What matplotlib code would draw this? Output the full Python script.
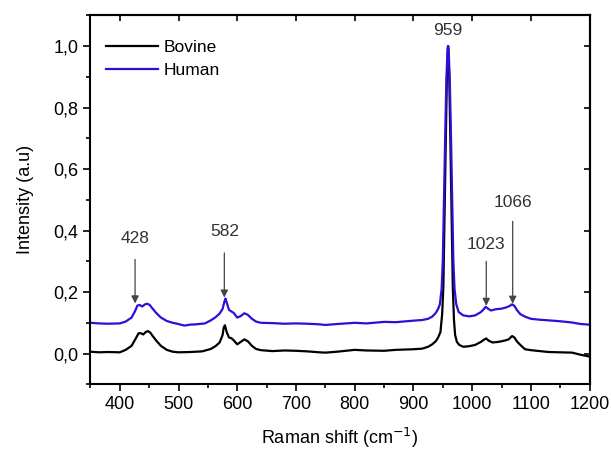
import matplotlib
matplotlib.use("Agg")
import matplotlib.pyplot as plt
from matplotlib.ticker import MultipleLocator

plt.rcParams['font.family'] = ['Liberation Sans', 'DejaVu Sans']

# --- podaci ocitani sa slike

# Human (plava)
human_x = [350, 365, 380, 400, 410, 420, 426, 430, 434, 438, 443, 447, 451, 455, 462, 470, 480,
           490, 500, 510, 520, 530, 545, 555, 563, 570, 575, 578, 580, 583, 586, 590, 594, 600,
           606, 612, 618, 625, 632, 640, 660, 680, 700, 720, 740, 750, 770, 800, 820, 850, 870,
           900, 915, 925, 932, 938, 942, 945, 948, 950, 952, 954, 956, 958, 959, 960, 962, 964,
           966, 968, 970, 973, 977, 985, 995, 1005, 1015, 1020, 1023, 1027, 1032, 1040, 1050,
           1058, 1064, 1068, 1072, 1076, 1082, 1090, 1100, 1115, 1130, 1150, 1170, 1185, 1200]
human_y = [0.100, 0.098, 0.097, 0.098, 0.104, 0.117, 0.138, 0.156, 0.158, 0.153, 0.160, 0.162,
           0.158, 0.148, 0.132, 0.117, 0.106, 0.100, 0.096, 0.091, 0.094, 0.095, 0.098, 0.108,
           0.118, 0.130, 0.145, 0.168, 0.179, 0.160, 0.142, 0.137, 0.132, 0.117, 0.122, 0.131,
           0.126, 0.113, 0.104, 0.100, 0.099, 0.097, 0.098, 0.097, 0.095, 0.093, 0.096, 0.100,
           0.098, 0.103, 0.102, 0.107, 0.109, 0.113, 0.120, 0.132, 0.145, 0.160, 0.210, 0.300,
           0.500, 0.700, 0.880, 0.990, 1.000, 0.990, 0.880, 0.700, 0.500, 0.300, 0.210, 0.160,
           0.135, 0.124, 0.121, 0.124, 0.135, 0.145, 0.152, 0.146, 0.140, 0.144, 0.146, 0.150,
           0.155, 0.160, 0.155, 0.142, 0.128, 0.120, 0.113, 0.110, 0.108, 0.105, 0.101, 0.096,
           0.094]

# Bovine (crna)
bovine_x = [350, 365, 380, 400, 410, 420, 426, 432, 436, 440, 444, 448, 452, 456, 463, 470, 480,
            490, 500, 520, 540, 555, 563, 570, 575, 577, 579, 582, 586, 590, 594, 600, 606, 612,
            618, 625, 632, 640, 660, 680, 700, 720, 740, 750, 770, 800, 820, 850, 870, 900, 915,
            925, 932, 938, 942, 946, 949, 951, 953, 955, 957, 959, 961, 963, 965, 967, 969, 971,
            974, 978, 985, 995, 1005, 1015, 1020, 1024, 1028, 1035, 1045, 1055, 1062, 1068,
            1072, 1076, 1082, 1090, 1100, 1115, 1130, 1150, 1170, 1185, 1200]
bovine_y = [0.006, 0.004, 0.005, 0.004, 0.012, 0.025, 0.045, 0.066, 0.066, 0.062, 0.070, 0.073,
            0.068, 0.057, 0.040, 0.025, 0.012, 0.006, 0.004, 0.005, 0.007, 0.015, 0.024, 0.036,
            0.060, 0.085, 0.092, 0.070, 0.052, 0.050, 0.043, 0.030, 0.038, 0.046, 0.040, 0.025,
            0.015, 0.011, 0.008, 0.010, 0.009, 0.007, 0.004, 0.003, 0.006, 0.012, 0.010, 0.009,
            0.012, 0.014, 0.016, 0.022, 0.030, 0.040, 0.052, 0.070, 0.130, 0.220, 0.450, 0.680,
            0.900, 1.000, 0.900, 0.680, 0.450, 0.220, 0.110, 0.060, 0.038, 0.028, 0.022, 0.024,
            0.028, 0.038, 0.045, 0.049, 0.042, 0.036, 0.038, 0.042, 0.046, 0.057, 0.052, 0.040,
            0.028, 0.014, 0.011, 0.008, 0.005, 0.004, 0.003, -0.004, -0.010]

# oznake pikova: polozaj, vrh strelice, pocetak strelice, polozaj teksta
peak_labels = ['428', '582', '1023', '1066']
peak_x = [426, 578, 1024, 1069]
arrow_tip = [0.163, 0.182, 0.155, 0.162]
arrow_start = [0.306, 0.327, 0.300, 0.430]
text_y = [0.373, 0.397, 0.354, 0.492]

y_ticks = [0.0, 0.2, 0.4, 0.6, 0.8, 1.0]
y_tick_labels = ['0,0', '0,2', '0,4', '0,6', '0,8', '1,0']
x_ticks = [400, 500, 600, 700, 800, 900, 1000, 1100, 1200]

# --- graficki prikaz
slika = plt.figure(figsize=(6.11, 4.5), dpi=100)
ax = slika.add_axes([0.148, 0.146, 0.817, 0.82])

ax.plot(bovine_x, bovine_y, c='black', lw=1.6, label='Bovine')
ax.plot(human_x, human_y, c='#2a10d8', lw=1.6, label='Human')

for i in range(len(peak_labels)):
    ax.annotate('', xy=(peak_x[i], arrow_tip[i]), xytext=(peak_x[i], arrow_start[i]),
                arrowprops=dict(arrowstyle='-|>', color='#444444', lw=0.9,
                                mutation_scale=11, shrinkA=0, shrinkB=0))
    ax.text(peak_x[i], text_y[i], peak_labels[i], ha='center', va='center',
            fontsize=12.5, color='#333333')
ax.text(958, 1.049, '959', ha='center', va='center', fontsize=12.5, color='#333333')

ax.set_xlim(350, 1200)
ax.set_ylim(-0.1, 1.1)
ax.set_xticks(x_ticks)
ax.set_yticks(y_ticks)
ax.set_yticklabels(y_tick_labels)
ax.xaxis.set_minor_locator(MultipleLocator(50))
ax.yaxis.set_minor_locator(MultipleLocator(0.1))
ax.tick_params(axis='both', which='major', direction='out', length=5, width=1.2,
               labelsize=13, top=False, right=False)
ax.tick_params(axis='both', which='minor', direction='out', length=3, width=1.2)

# unutrasnje crtice na desnoj i gornjoj osi
ax2 = ax.secondary_yaxis('right')
ax2.set_yticks(y_ticks)
ax2.set_yticklabels([])
ax2.tick_params(direction='in', length=4, width=1.2)
ax3 = ax.secondary_xaxis('top')
ax3.set_xticks(x_ticks)
ax3.set_xticklabels([])
ax3.tick_params(direction='in', length=4, width=1.2)

for s in ax.spines.values():
    s.set_linewidth(1.5)
ax2.spines['right'].set_linewidth(1.5)
ax3.spines['top'].set_linewidth(1.5)

ax.set_xlabel('Raman shift (cm$^{-1}$)', fontsize=13, labelpad=9)
ax.set_ylabel('Intensity (a.u)', fontsize=13, labelpad=14)

ax.legend(loc='upper left', frameon=False, fontsize=12.5, handlelength=3.0,
          handletextpad=0.3, labelspacing=0.45, bbox_to_anchor=(0.0, 0.975))

plt.savefig('out.png', dpi=100)
